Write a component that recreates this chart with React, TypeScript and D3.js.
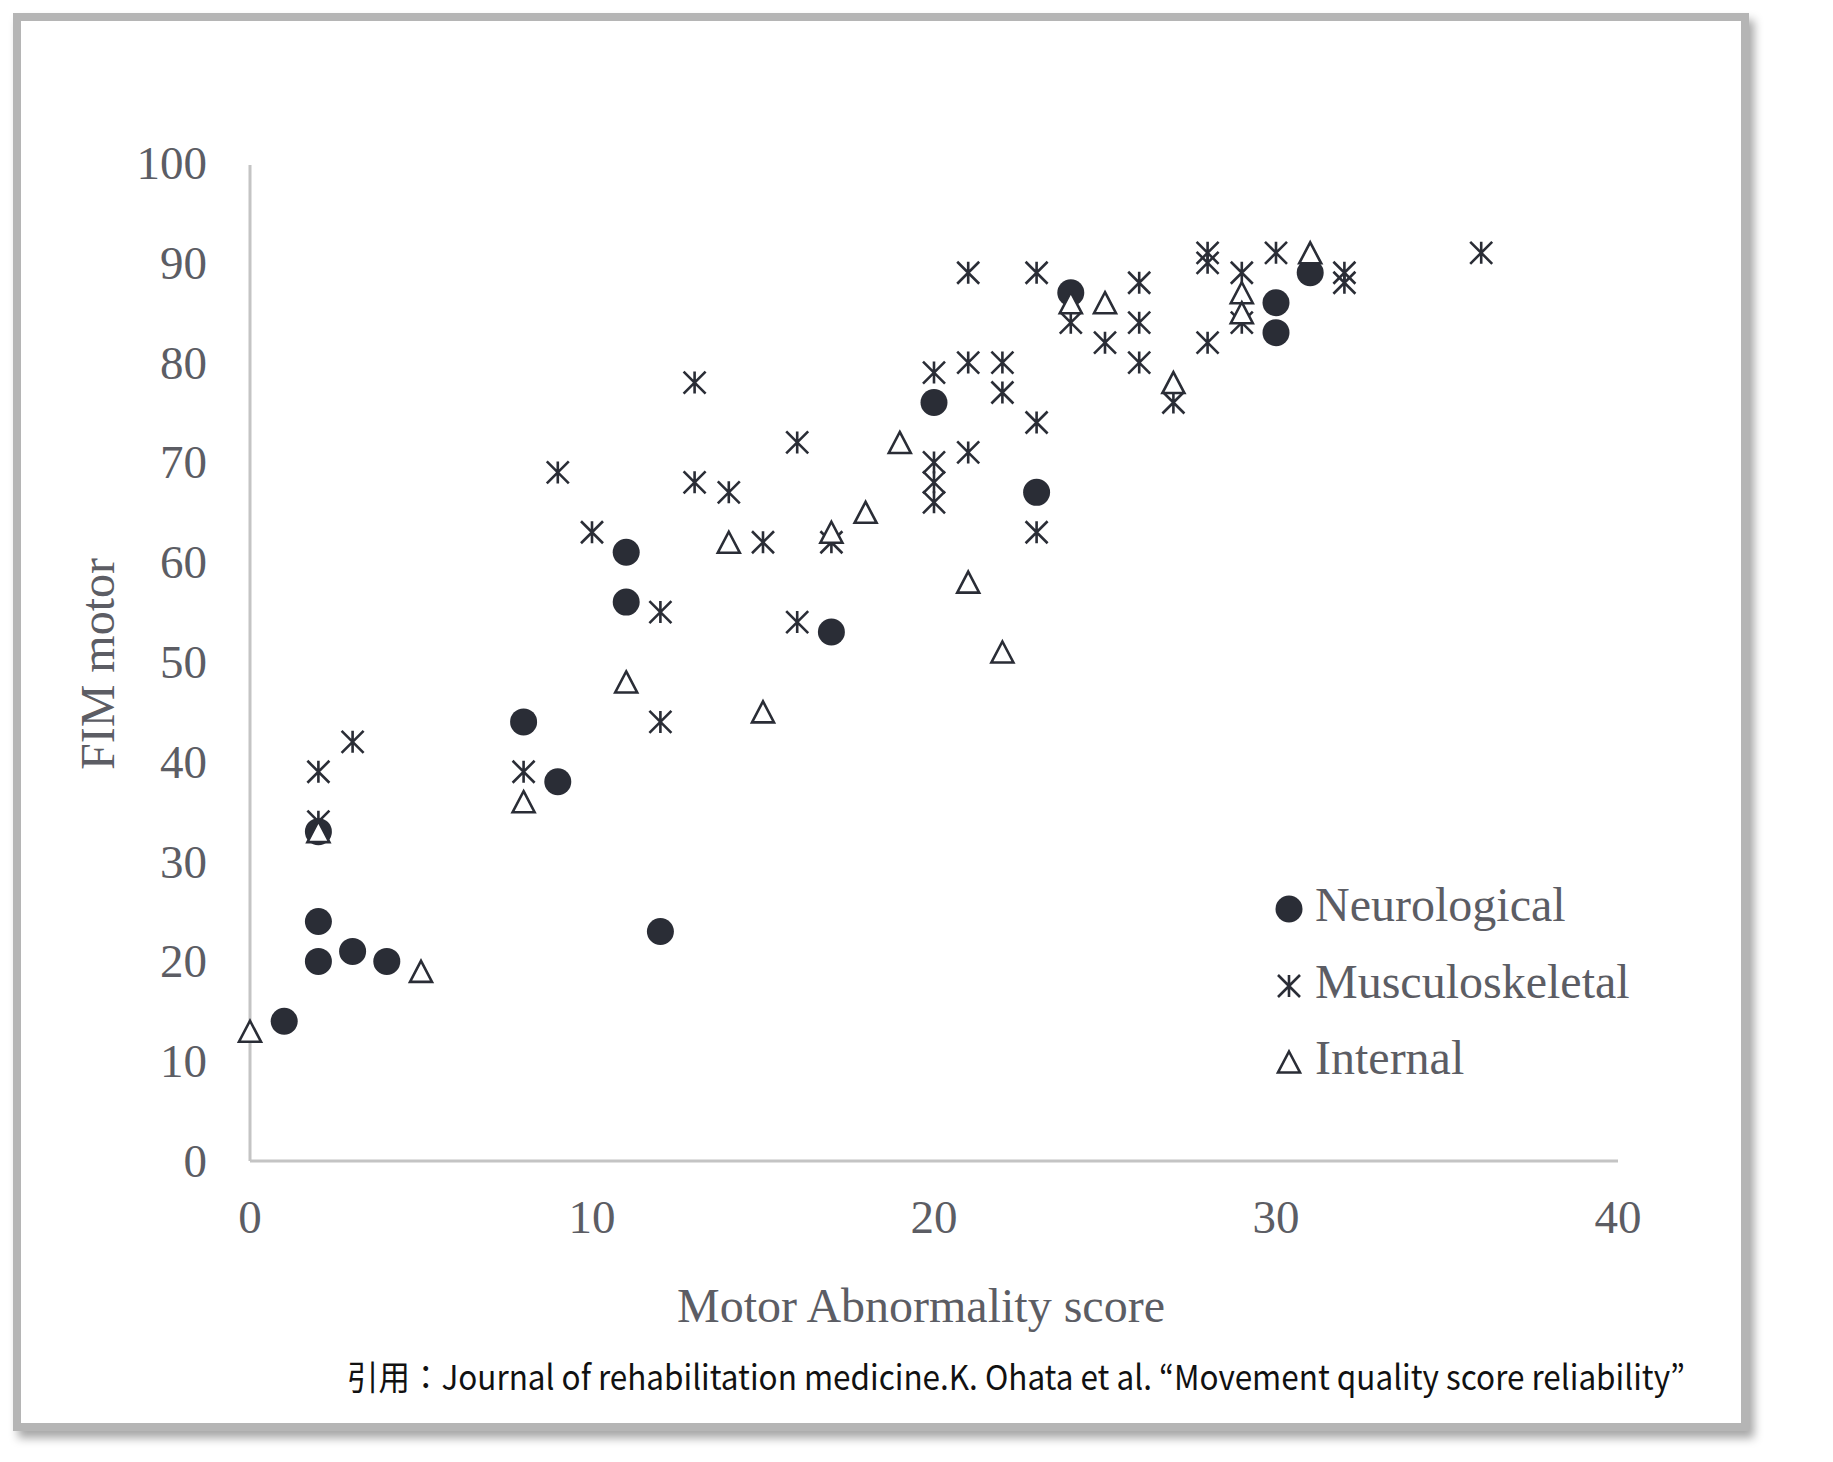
import * as d3 from "d3";

// Motor Abnormality score (x) vs FIM motor (y), one pair per patient
const neuroX = [1, 2, 2, 2, 3, 4, 8, 9, 11, 11, 12, 17, 20, 23, 24, 30, 30, 31];
const neuroY = [14, 20, 24, 33, 21, 20, 44, 38, 61, 56, 23, 53, 76, 67, 87, 86, 83, 89];

const muscX = [
  2, 2, 3, 8, 9, 10, 12, 12, 13, 13, 14, 15, 16, 16, 17, 20, 20, 20, 20, 21, 21, 21, 22, 22,
  23, 23, 23, 24, 25, 26, 26, 26, 27, 28, 28, 28, 29, 29, 30, 32, 32, 36,
];
const muscY = [
  39, 34, 42, 39, 69, 63, 55, 44, 78, 68, 67, 62, 72, 54, 62, 79, 70, 68, 66, 89, 80, 71, 80, 77,
  89, 74, 63, 84, 82, 88, 84, 80, 76, 91, 90, 82, 89, 84, 91, 89, 88, 91,
];

const internalX = [0, 2, 5, 8, 11, 14, 15, 17, 18, 19, 21, 22, 24, 25, 27, 29, 29, 31];
const internalY = [13, 33, 19, 36, 48, 62, 45, 63, 65, 72, 58, 51, 86, 86, 78, 87, 85, 91];

const xTicks = [0, 10, 20, 30, 40];
const yTicks = [0, 10, 20, 30, 40, 50, 60, 70, 80, 90, 100];

const legendNames = ["Neurological", "Musculoskeletal", "Internal"];
const citation =
  "引用：Journal of rehabilitation medicine.K. Ohata et al. “Movement quality score reliability”";

const W = 1833;
const H = 1462;
const ink = "#2a2d36";
const labelColor = "#5c5d64";
const serif = "'Liberation Serif', 'Times New Roman', serif";

function Circle({ cx, cy }: { cx: number; cy: number }) {
  return <circle cx={cx} cy={cy} r={13.5} fill={ink} />;
}

function Asterisk({ cx, cy }: { cx: number; cy: number }) {
  const s = 11;
  return (
    <path
      d={`M${cx},${cy - s}V${cy + s}M${cx - s},${cy - s}L${cx + s},${cy + s}M${cx + s},${cy - s}L${cx - s},${cy + s}`}
      stroke={ink}
      strokeWidth={2.6}
      fill="none"
    />
  );
}

function Triangle({ cx, cy }: { cx: number; cy: number }) {
  const hw = 11;
  const hh = 10.5;
  return (
    <path
      d={`M${cx},${cy - hh}L${cx + hw},${cy + hh}L${cx - hw},${cy + hh}Z`}
      stroke={ink}
      strokeWidth={2.6}
      fill="#fff"
      strokeLinejoin="miter"
    />
  );
}

export default function App() {
  const x = d3.scaleLinear().domain([0, 40]).range([250, 1618]);
  const y = d3.scaleLinear().domain([0, 100]).range([1161, 163]);

  const legendX = 1289;
  const legendY = [909, 986, 1062];

  return (
    <svg
      width={W}
      height={H}
      style={{ position: "absolute", left: 0, top: 0, background: "#fff" }}
      fontFamily={serif}
    >
      <defs>
        <filter id="shadow" x="-5%" y="-5%" width="115%" height="115%">
          <feDropShadow dx="5" dy="7" stdDeviation="5" floodColor="#000" floodOpacity="0.35" />
        </filter>
      </defs>

      {/* framed card */}
      <rect x={17} y={17} width={1728} height={1410} fill="#fff" stroke="#b5b5b5" strokeWidth={8} filter="url(#shadow)" />

      {/* axes */}
      <line x1={x(0)} x2={x(0)} y1={y(0)} y2={y(99.8)} stroke="#c4c4c4" strokeWidth={3} />
      <line x1={x(0)} x2={x(40)} y1={y(0)} y2={y(0)} stroke="#c4c4c4" strokeWidth={3} />

      {yTicks.map((t) => (
        <text key={t} x={207} y={y(t)} textAnchor="end" dominantBaseline="central" fontSize={47} fill={labelColor}>
          {t}
        </text>
      ))}
      {xTicks.map((t) => (
        <text key={t} x={x(t)} y={1217} textAnchor="middle" dominantBaseline="central" fontSize={47} fill={labelColor}>
          {t}
        </text>
      ))}

      <text
        transform={`translate(97,664) rotate(-90)`}
        textAnchor="middle"
        dominantBaseline="central"
        fontSize={48}
        fill={labelColor}
      >
        FIM motor
      </text>
      <text x={921} y={1322} textAnchor="middle" fontSize={48} fill={labelColor}>
        Motor Abnormality score
      </text>

      {/* points */}
      {neuroX.map((v, i) => (
        <Circle key={"n" + i} cx={x(v)} cy={y(neuroY[i])} />
      ))}
      {muscX.map((v, i) => (
        <Asterisk key={"m" + i} cx={x(v)} cy={y(muscY[i])} />
      ))}
      {internalX.map((v, i) => (
        <Triangle key={"t" + i} cx={x(v)} cy={y(internalY[i])} />
      ))}

      {/* legend */}
      <Circle cx={legendX} cy={legendY[0]} />
      <Asterisk cx={legendX} cy={legendY[1]} />
      <Triangle cx={legendX} cy={legendY[2]} />
      {legendNames.map((name, i) => (
        <text key={name} x={1315} y={legendY[i]} dy={12} fontSize={48} fill={labelColor}>
          {name}
        </text>
      ))}

      <text
        x={347}
        y={1390}
        fontSize={34}
        fill="#111"
        fontFamily="'Noto Sans CJK JP', 'Noto Sans', sans-serif"
        textLength={1338}
        lengthAdjust="spacingAndGlyphs"
      >
        {citation}
      </text>
    </svg>
  );
}
